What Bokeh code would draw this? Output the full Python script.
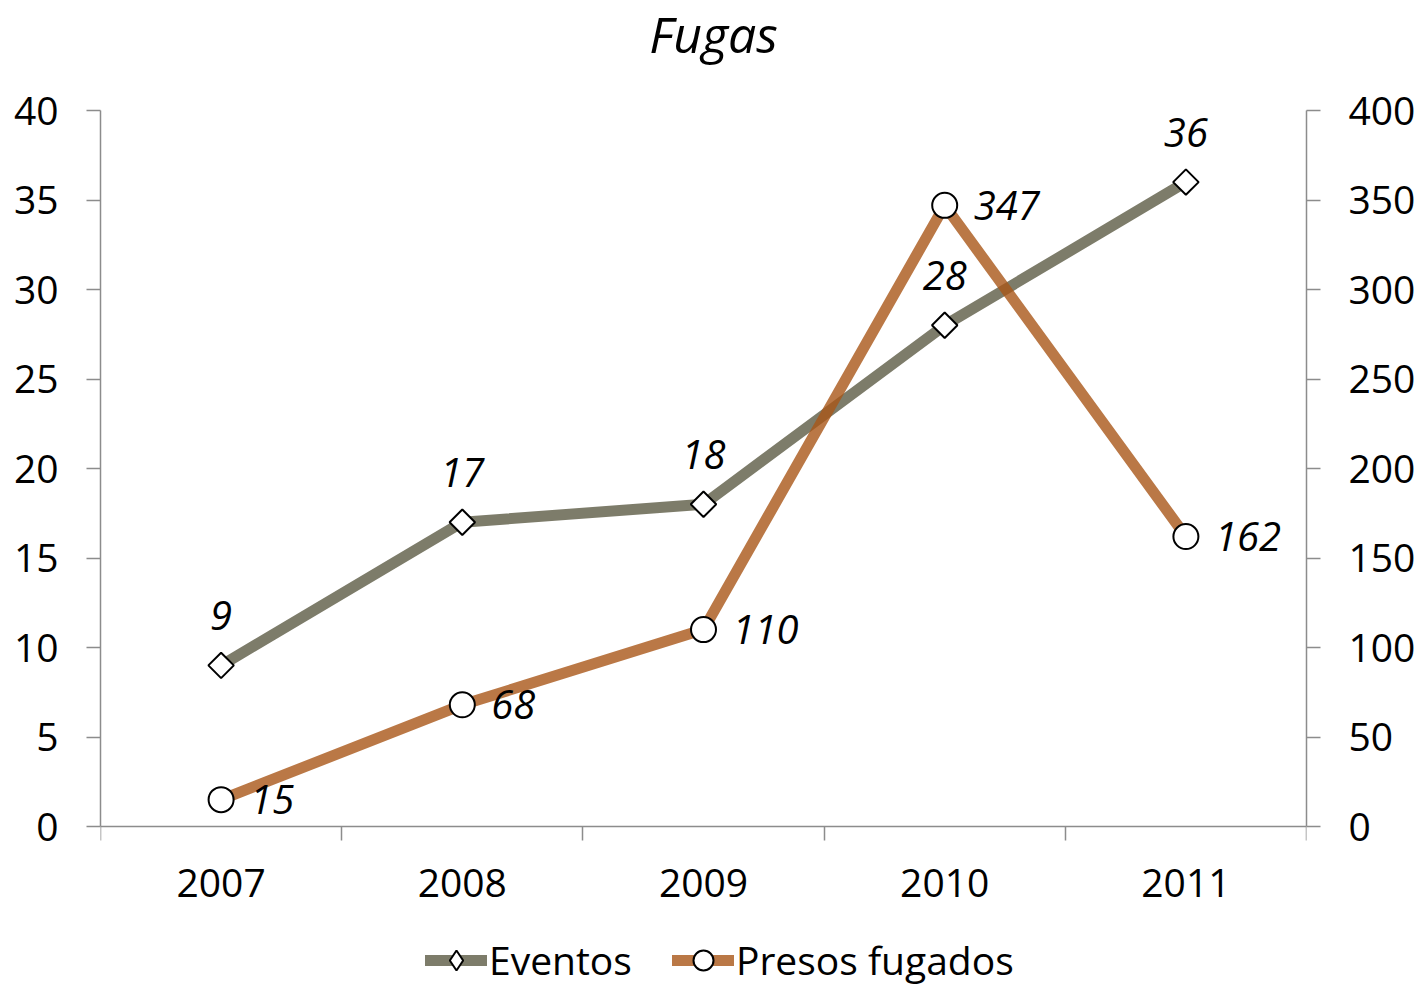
from bokeh.plotting import figure
from bokeh.models import (Range1d, LinearAxis, FixedTicker, CustomJSTickFormatter,
                          Legend, LegendItem, ColumnDataSource, Label)
from bokeh.core.properties import value
from bokeh.embed import file_html
from bokeh.resources import INLINE

title_text = "Fugas"
years = ["2007", "2008", "2009", "2010", "2011"]
eventos = [9, 17, 18, 28, 36]
presos = [15, 68, 110, 347, 162]
left_ticks = [0, 5, 10, 15, 20, 25, 30, 35, 40]
right_ticks = [0, 50, 100, 150, 200, 250, 300, 350, 400]

FONT = "Open Sans"
AXIS_COLOR = "#8c8c8c"
EV_COLOR = "#5d5b45"
PR_COLOR = "#a95618"

xs = [i + 0.5 for i in range(len(years))]

# layout (pixels): value axes span 716 px; room above for the title, below for the legend
FRAME_W = 1206
AXIS_PX = 716
TOP_PX = 110
BOTTOM_PX = 174
LMAX, RMAX = 40, 400
lpx = LMAX / AXIS_PX
rpx = RMAX / AXIS_PX

p = figure(output_backend="svg", toolbar_location=None, title=None,
           frame_width=FRAME_W, frame_height=TOP_PX + AXIS_PX + BOTTOM_PX,
           x_range=Range1d(0, 5),
           y_range=Range1d(-BOTTOM_PX * lpx, LMAX + TOP_PX * lpx),
           min_border_left=100, min_border_right=117, min_border_top=0,
           min_border_bottom=10)
p.extra_y_ranges = {"right": Range1d(-BOTTOM_PX * rpx, RMAX + TOP_PX * rpx)}
p.outline_line_color = None
p.xgrid.visible = False
p.ygrid.visible = False
p.background_fill_color = "white"
p.border_fill_color = "white"

# title (centre ~10 px right of plot centre, 77 px above the top of the axes)
p.add_layout(Label(x=2.5 + 10 * 5 / FRAME_W, y=LMAX + 77 * lpx, text=title_text,
                   text_font=FONT, text_font_style="italic", text_font_size="50px",
                   text_align="center", text_baseline="middle", text_color="black"))

def style_axis(ax):
    ax.axis_line_color = AXIS_COLOR
    ax.axis_line_width = 1.5
    ax.major_tick_line_color = AXIS_COLOR
    ax.major_tick_line_width = 1.5
    ax.minor_tick_line_color = AXIS_COLOR
    ax.minor_tick_line_width = 1.5
    ax.major_label_text_font = FONT
    ax.major_label_text_font_size = "39px"
    ax.major_label_text_color = "black"

# x axis (drawn at value 0)
xa = p.xaxis[0]
xa.ticker = FixedTicker(ticks=xs, minor_ticks=[0, 1, 2, 3, 4, 5])
xa.formatter = CustomJSTickFormatter(args=dict(years=years),
                                     code="return years[Math.floor(tick)];")
style_axis(xa)
xa.fixed_location = 0
xa.major_tick_line_color = None
xa.minor_tick_in = 0
xa.minor_tick_out = 14
xa.major_label_standoff = 28

# left axis
ya = p.yaxis[0]
ya.ticker = FixedTicker(ticks=left_ticks, minor_ticks=[])
ya.bounds = (0, LMAX)
style_axis(ya)
ya.major_tick_in = 0
ya.major_tick_out = 14
ya.major_label_standoff = 28

# right axis
ra = LinearAxis(y_range_name="right", ticker=FixedTicker(ticks=right_ticks, minor_ticks=[]),
                bounds=(0, RMAX))
style_axis(ra)
ra.major_tick_in = 0
ra.major_tick_out = 14
ra.major_label_standoff = 28
p.add_layout(ra, "right")

# lines
l_ev = p.line(xs, eventos, line_color=EV_COLOR, line_width=11, line_alpha=0.8,
              line_cap="round")
l_pr = p.line(xs, presos, line_color=PR_COLOR, line_width=11, line_alpha=0.8,
              line_cap="round", y_range_name="right")
# diamond shape used for the legend key (covered by the square diamonds in the plot)
d_ev = p.scatter(xs, eventos, marker="diamond", size=20,
                 fill_color="white", line_color="black", line_width=2)
m_ev = p.scatter(xs, eventos, marker="square", angle=0.7853981634, size=18,
                 fill_color="white", line_color="black", line_width=2)
m_pr = p.scatter(xs, presos, marker="circle", size=25, fill_color="white",
                 line_color="black", line_width=2, y_range_name="right")

# data labels
src_ev = ColumnDataSource(dict(x=xs, y=eventos, t=[str(v) for v in eventos]))
src_pr = ColumnDataSource(dict(x=xs, y=presos, t=[str(v) for v in presos]))
p.text(x="x", y="y", text="t", source=src_ev, text_font=value(FONT),
       text_font_style="italic", text_font_size="40px", text_align="center",
       text_baseline="middle", y_offset=-50, text_color="black")
p.text(x="x", y="y", text="t", source=src_pr, text_font=value(FONT),
       text_font_style="italic", text_font_size="40px", text_align="left",
       text_baseline="middle", x_offset=29, text_color="black",
       y_range_name="right")

legend = Legend(items=[LegendItem(label="Eventos", renderers=[l_ev, d_ev]),
                       LegendItem(label="Presos fugados", renderers=[l_pr, m_pr])],
                orientation="horizontal", location=(325, 14),
                label_text_font=FONT, label_text_font_size="39px",
                label_text_color="black", glyph_width=62, glyph_height=50,
                label_standoff=2, spacing=40, border_line_color=None,
                background_fill_alpha=0, margin=0, padding=0)
p.add_layout(legend, "center")

open("out.html", "w").write(file_html(p, INLINE))
